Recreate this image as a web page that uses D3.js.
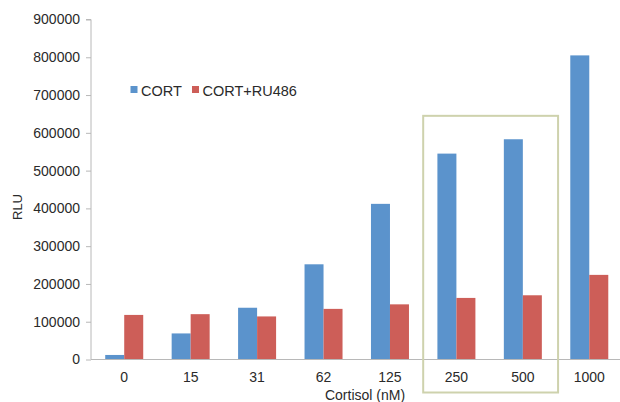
<!DOCTYPE html>
<html><head><meta charset="utf-8">
<script src="https://cdn.jsdelivr.net/npm/d3@7"></script>
<style>
html,body{margin:0;padding:0;background:#fff;}
svg{display:block;font-family:"Liberation Sans",Arial,sans-serif;}
</style></head>
<body><svg id="c" width="620" height="402"></svg>
<script>
const categories = ["0","15","31","62","125","250","500","1000"];
const seriesNames = ["CORT","CORT+RU486"];
const cortValues = [12000,69000,137000,252000,412000,545000,583000,805000];
const ruValues = [118000,120000,114000,134000,146000,163000,170000,224000];
const yTicks = [0,100000,200000,300000,400000,500000,600000,700000,800000,900000];
const highlight = ["250","500"];
const colors = ["#5b93cc","#cd5e58"];

(function(){
const svg = d3.select("#c");
const pLeft = 91, pRight = 622.5, pTop = 19.5, pBottom = 359.5;

const x = d3.scaleBand().domain(categories).range([pLeft, pRight])
  .paddingInner(0.428).paddingOuter(0.214);
const xs = d3.scaleBand().domain(seriesNames).range([0, x.bandwidth()]);
const y = d3.scaleLinear().domain([0, 900000]).range([pBottom, pTop]);

const data = categories.map((c,i)=>({cat:c, vals:[cortValues[i], ruValues[i]]}));

const g = svg.append("g");
data.forEach(d=>{
  seriesNames.forEach((s,j)=>{
    g.append("rect")
      .attr("x", x(d.cat)+xs(s))
      .attr("y", y(d.vals[j]))
      .attr("width", xs.bandwidth())
      .attr("height", y(0)-y(d.vals[j]))
      .attr("fill", colors[j]);
  });
});

const yAxis = d3.axisLeft(y).tickValues(yTicks).tickFormat(d3.format("d")).tickSize(5).tickPadding(6);
const ya = svg.append("g").attr("transform",`translate(${pLeft},0)`).call(yAxis);
ya.select(".domain").attr("stroke","#b8b8b8").attr("d",`M-5,${pTop}H0V${pBottom}`);
ya.selectAll(".tick line").attr("stroke","#b8b8b8");
ya.selectAll(".tick text").attr("fill","#2a2a2a").style("font-size","14px").attr("font-family","Liberation Sans, Arial, sans-serif");

const xAxis = d3.axisBottom(x).tickSize(0).tickPadding(13);
const xa = svg.append("g").attr("transform",`translate(0,${pBottom})`).call(xAxis);
xa.select(".domain").attr("stroke","#b8b8b8").attr("d",`M${pLeft},0H620`);
xa.selectAll(".tick text").attr("fill","#2a2a2a").style("font-size","14px").attr("font-family","Liberation Sans, Arial, sans-serif");

const step = x.step();
const bx0 = x(highlight[0]) - x.paddingInner()*step/2;
const bx1 = x(highlight[1]) + x.bandwidth() + x.paddingInner()*step/2 + 2;
svg.append("rect")
  .attr("x", bx0).attr("y", y(645000))
  .attr("width", bx1-bx0).attr("height", (pBottom+33)-y(645000))
  .attr("fill","none").attr("stroke","#ced2ad").attr("stroke-width",2);

svg.append("text").attr("x",365).attr("y",400).attr("text-anchor","middle")
  .attr("fill","#2a2a2a").style("font-size","14px").text("Cortisol (nM)");
svg.append("text").attr("transform","translate(22,207) rotate(-90)").attr("text-anchor","middle")
  .attr("fill","#2a2a2a").style("font-size","13px").text("RLU");

const lg = svg.append("g");
const legX = [130.5, 192];
seriesNames.forEach((s,j)=>{
  lg.append("rect").attr("x",legX[j]).attr("y",86).attr("width",7).attr("height",7).attr("fill",colors[j]);
  lg.append("text").attr("x",legX[j]+10.5).attr("y",95.5).attr("fill","#2a2a2a")
    .style("font-size","14.5px").text(s);
});
})();
</script></body></html>
